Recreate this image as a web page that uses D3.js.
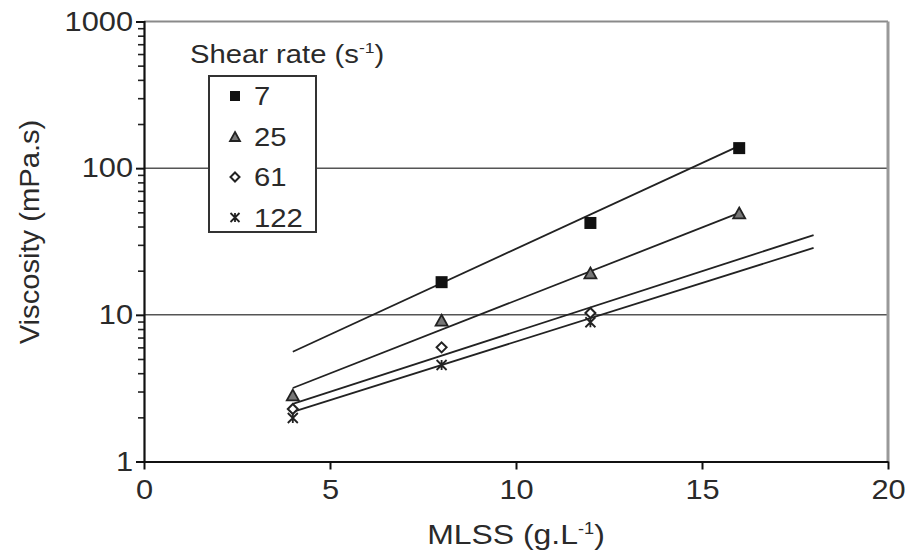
<!DOCTYPE html>
<html>
<head>
<meta charset="utf-8">
<script src="https://cdn.jsdelivr.net/npm/d3@7"></script>
<style>
  html, body { margin: 0; padding: 0; background: #fff; }
  svg { display: block; font-family: "Liberation Sans", Arial, sans-serif; }
</style>
</head>
<body>
<svg id="chart" width="907" height="553"></svg>
<script>
// ---- data ----
const shearRates = ["7", "25", "61", "122"];
const mlss7 = [8, 12, 16];
const visc7 = [16.7, 42.3, 137];
const mlss25 = [4, 8, 12, 16];
const visc25 = [2.84, 9.2, 19.3, 49.5];
const mlss61 = [4, 8, 12];
const visc61 = [2.28, 6.0, 10.3];
const mlss122 = [4, 8, 12];
const visc122 = [1.98, 4.55, 8.9];
// trend lines (endpoints)
const fitX7 = [4, 16],  fitY7 = [5.6, 142];
const fitX25 = [4, 16], fitY25 = [3.17, 49.5];
const fitX61 = [4, 18], fitY61 = [2.47, 35];
const fitX122 = [4, 18], fitY122 = [2.18, 28.6];
const xTicks = [0, 5, 10, 15, 20];
const yTicks = [1, 10, 100, 1000];
const yGrid = [10, 100];

const svg = d3.select("#chart");
const x = d3.scaleLinear().domain([0, 20]).range([144, 888]);
const y = d3.scaleLog().domain([1, 1000]).range([461.5, 21.5]);
const textColor = "#2a2a2a";
const SX = 1.14; // horizontal stretch of the lettering

// grid lines
svg.append("g").selectAll("line").data(yGrid).join("line")
  .attr("x1", x(0)).attr("x2", x(20))
  .attr("y1", d => y(d)).attr("y2", d => y(d))
  .attr("stroke", "#555").attr("stroke-width", 1.5);

// top and right border (gray)
svg.append("line").attr("x1", x(0)).attr("x2", x(20)).attr("y1", y(1000)).attr("y2", y(1000))
  .attr("stroke", "#8a8a8a").attr("stroke-width", 2);
svg.append("line").attr("x1", x(20)).attr("x2", x(20)).attr("y1", y(1000)).attr("y2", y(1))
  .attr("stroke", "#999").attr("stroke-width", 3);

// y axis minor ticks
const minor = [];
[1, 10, 100].forEach(d => { for (let k = 2; k <= 9; k++) minor.push(d * k); });
const yMinor = svg.append("g").attr("transform", `translate(${x(0)},0)`)
  .call(d3.axisLeft(y).tickValues(minor).tickSize(6).tickFormat(""));
yMinor.select(".domain").remove();
yMinor.selectAll("line").attr("stroke", "#222").attr("stroke-width", 1.6);

// y axis
const yAxis = svg.append("g").attr("transform", `translate(${x(0)},0)`)
  .call(d3.axisLeft(y).tickValues(yTicks).tickSize(8).tickPadding(4).tickFormat(d3.format("d")));
yAxis.select(".domain").attr("stroke", "#111").attr("stroke-width", 2.2);
yAxis.selectAll(".tick line").attr("stroke", "#111").attr("stroke-width", 2);
yAxis.selectAll("text").attr("font-size", 27).attr("fill", textColor)
  .attr("font-family", "Liberation Sans, Arial, sans-serif")
  .attr("x", -11 / SX).attr("transform", `scale(${SX},1)`);

// x axis
const xAxis = svg.append("g").attr("transform", `translate(0,${y(1)})`)
  .call(d3.axisBottom(x).tickValues(xTicks).tickSize(8).tickPadding(10).tickSizeOuter(0));
xAxis.select(".domain").attr("stroke", "#111").attr("stroke-width", 2.2);
xAxis.selectAll(".tick line").attr("stroke", "#111").attr("stroke-width", 2);
xAxis.selectAll("text").attr("font-size", 27).attr("fill", textColor)
  .attr("font-family", "Liberation Sans, Arial, sans-serif")
  .attr("transform", `scale(${SX},1)`);

// axis titles
svg.append("text")
  .attr("transform", `translate(39,232) rotate(-90) scale(1.08,1)`)
  .attr("text-anchor", "middle").attr("font-size", 27).attr("fill", textColor)
  .text("Viscosity (mPa.s)");
const xt = svg.append("text").attr("transform", `translate(${x(10)},544) scale(${SX},1)`)
  .attr("text-anchor", "middle").attr("font-size", 28).attr("fill", textColor);
xt.append("tspan").text("MLSS (g.L");
xt.append("tspan").attr("font-size", 16).attr("dy", -10).text("-1");
xt.append("tspan").attr("dy", 10).text(")");

// trend lines
const line = d3.line().x(d => x(d[0])).y(d => y(d[1]));
const fits = [[fitX7, fitY7], [fitX25, fitY25], [fitX61, fitY61], [fitX122, fitY122]];
svg.append("g").selectAll("path").data(fits).join("path")
  .attr("d", f => line(f[0].map((v, i) => [v, f[1][i]])))
  .attr("fill", "none").attr("stroke", "#222").attr("stroke-width", 1.8);

// marker drawers
function drawMarker(g, type, cx, cy, s) {
  if (type === 0) {
    g.append("rect").attr("x", cx - s / 2).attr("y", cy - s / 2).attr("width", s).attr("height", s)
      .attr("fill", "#111");
  } else if (type === 1) {
    const h = s * 0.9;
    g.append("path").attr("d", `M${cx},${cy - h / 2} L${cx + s / 2},${cy + h / 2} L${cx - s / 2},${cy + h / 2} Z`)
      .attr("fill", "#777").attr("stroke", "#222").attr("stroke-width", 1.8);
  } else if (type === 2) {
    const r = s / 2;
    g.append("path").attr("d", `M${cx},${cy - r} L${cx + r},${cy} L${cx},${cy + r} L${cx - r},${cy} Z`)
      .attr("fill", "#fff").attr("stroke", "#222").attr("stroke-width", 2);
  } else {
    const r = s / 2;
    g.append("path").attr("d",
      `M${cx - r},${cy - r} L${cx + r},${cy + r} M${cx - r},${cy + r} L${cx + r},${cy - r} M${cx},${cy - r} L${cx},${cy + r}`)
      .attr("fill", "none").attr("stroke", "#222").attr("stroke-width", 1.8);
  }
}

const series = [[mlss7, visc7], [mlss25, visc25], [mlss61, visc61], [mlss122, visc122]];
const sizes = [12, 12, 10, 10];
const pts = svg.append("g");
series.forEach((s, k) => {
  s[0].forEach((xv, i) => drawMarker(pts, k, x(xv), y(s[1][i]), sizes[k]));
});

// legend
const lt = svg.append("text").attr("transform", `translate(190,63) scale(1.17,1)`)
  .attr("font-size", 25).attr("fill", textColor);
lt.append("tspan").text("Shear rate (s");
lt.append("tspan").attr("font-size", 15).attr("dy", -10).text("-1");
lt.append("tspan").attr("dy", 10).text(")");

const leg = svg.append("g");
leg.append("rect").attr("x", 209).attr("y", 76).attr("width", 107).attr("height", 156)
  .attr("fill", "#fff").attr("stroke", "#333").attr("stroke-width", 2);
shearRates.forEach((r, i) => {
  const cy = 96 + i * 40.5;
  drawMarker(leg, i, 235, cy, i < 2 ? 10 : 9);
  leg.append("text").attr("transform", `translate(254,${cy + 9}) scale(1.17,1)`)
    .attr("font-size", 25).attr("fill", textColor).text(r);
});
</script>
</body>
</html>
